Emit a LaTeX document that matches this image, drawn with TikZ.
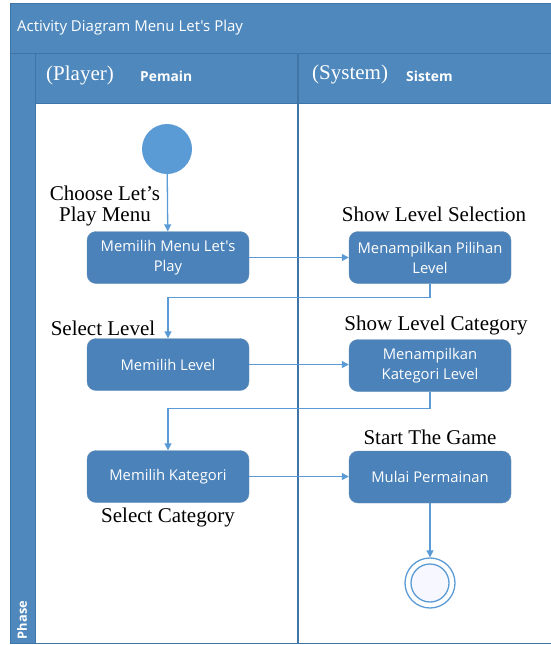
\documentclass[tikz,border=0pt]{standalone}
\usepackage{fontspec}
\setmainfont{Liberation Serif}
\newfontfamily\uifont{Open Sans}
\usetikzlibrary{arrows.meta}
\usetikzlibrary{positioning}
\usepackage{xcolor}
\definecolor{headblue}{HTML}{4F88BD}
\definecolor{edgeblue}{HTML}{3F74A6}
\definecolor{actblue}{HTML}{4B82B9}
\definecolor{flowblue}{HTML}{5B9BD5}

\begin{document}
\begin{tikzpicture}[x=1pt, y=-1pt,
					act/.style={rectangle, rounded corners=9pt, draw=edgeblue!80, fill=actblue, minimum width=162pt, minimum height=52pt, inner xsep=1pt, align=center, text=white, font=\uifont\fontsize{14.8}{20}\selectfont},
					lbl/.style={font=\fontsize{21}{21}\selectfont, align=center, inner sep=0},
					hdr/.style={text=white, anchor=west, inner sep=0},
					flow/.style={-{Triangle[length=7pt, width=7pt]}, line width=1.3pt, draw=flowblue}
					]
					\useasboundingbox (0,0) rectangle (551,645);
					
					%Frame
					\fill[headblue] (10,3) rectangle (560,53);
					\fill[headblue] (10,53) rectangle (35,643);
					\fill[headblue] (35,53) rectangle (560,103);
					\draw[edgeblue, line width=1pt] (10,3) -- (560,3) (10,3) -- (10,643) -- (560,643);
					\draw[edgeblue, line width=1pt] (10,53) -- (560,53) (35,53) -- (35,643) (35,103) -- (560,103);
					\draw[edgeblue, line width=1.5pt] (298,53) -- (298,643);
					
					\node[hdr, font=\uifont\fontsize{15}{17}\selectfont] (title) at (17,28) {Activity Diagram Menu Let's Play};
					\node[hdr, font=\fontsize{21}{21}\selectfont] (player) at (46,75) {(Player)};
					\node[hdr, font=\uifont\bfseries\fontsize{13.8}{16}\selectfont] (pemain) at (140,76) {Pemain};
					\node[hdr, font=\fontsize{21}{21}\selectfont] (system) at (312,74) {(System)};
					\node[hdr, font=\uifont\bfseries\fontsize{13.8}{16}\selectfont] (sistem) at (406,76) {Sistem};
					\node[text=white, inner sep=0, rotate=90, font=\uifont\bfseries\fontsize{12.8}{15}\selectfont] (phase) at (22,620) {Phase};
					
					%Nodes
					\node[circle, fill=flowblue, minimum size=50pt, inner sep=0] (start) at (167,149) {};
					\node[act] (menu)     at (168,257.5) {Memilih Menu Let's\\Play};
					\node[act] (pilihan)  at (430,257.5) {Menampilkan Pilihan\\Level};
					\node[act] (level)    at (168,364.5) {Memilih Level};
					\node[act] (kategori) at (430,365.5) {Menampilkan\\Kategori Level};
					\node[act] (pilihkat) at (168,476.5) {Memilih Kategori};
					\node[act] (mulai)    at (430,477)   {Mulai Permainan};
					\node[circle, draw=flowblue, line width=1.3pt, fill=white, minimum size=50pt, inner sep=0] (end) at (430,583) {};
					\node[circle, draw=flowblue, line width=1.3pt, fill=blue!3, minimum size=38pt, inner sep=0] (endin) at (end) {};
					
					%Labels
					\node[lbl] (choose)  at (105,206) {Choose Let’s\\Play Menu};
					\node[lbl] (showsel) at (434,214) {Show Level Selection};
					\node[lbl] (sellvl)  at (103,328) {Select Level};
					\node[lbl] (showcat) at (436,325) {Show Level Category};
					\node[lbl] (startg)  at (430,437) {Start The Game};
					\node[lbl] (selcat)  at (168,517) {Select Category};
					
					%Lines
					\draw[flow] (start) -- (menu);
					\draw[flow] (menu) -- (pilihan);
					\draw[flow] (pilihan.south) -- ++(0,14) -| (level.north);
					\draw[flow] (level) -- (kategori.west |- level);
					\draw[flow] (kategori.south) -- ++(0,17) -| (pilihkat.north);
					\draw[flow] (pilihkat) -- (mulai.west |- pilihkat);
					\draw[flow] (mulai) -- (end);
				\end{tikzpicture}
\end{document}
